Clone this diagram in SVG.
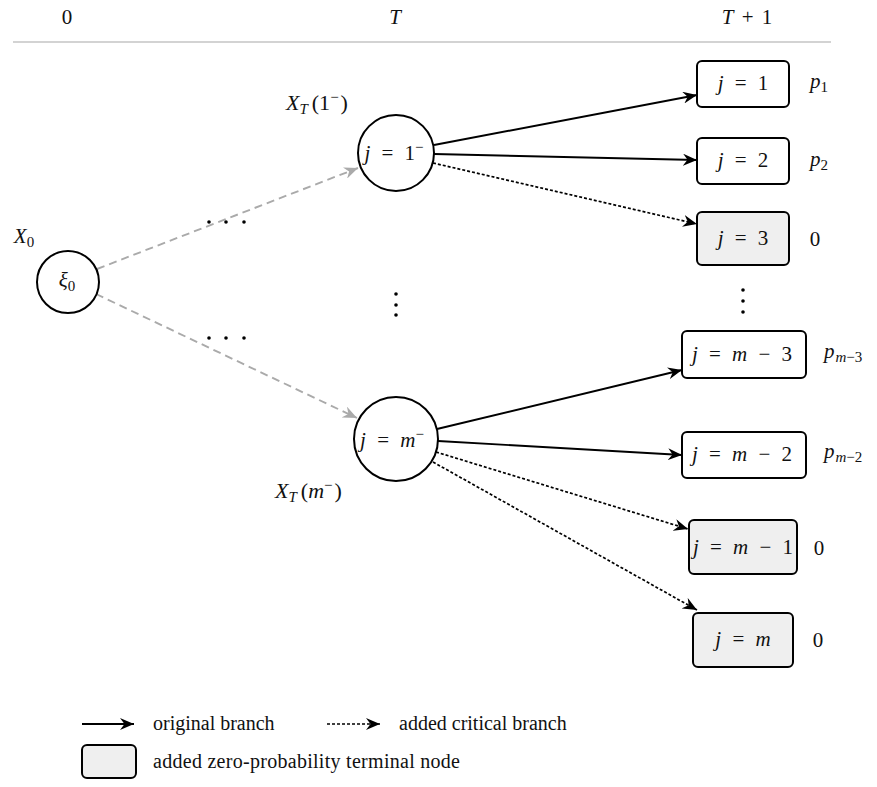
<svg xmlns="http://www.w3.org/2000/svg" width="877" height="787" viewBox="0 0 877 787" font-family="'Liberation Serif', 'DejaVu Serif', serif">
<defs>
<style>
text{font-family:"Liberation Serif","DejaVu Serif",serif;fill:#111;}
.m{font-size:21px;text-anchor:middle;}
.st{font-size:21px;}
.w{word-spacing:6px;}
.l{font-size:20px;}
.i{font-style:italic;}
.s{font-size:15px;}
.node{fill:#fff;stroke:#000;stroke-width:2;}
.zero{fill:#efefef;stroke:#000;stroke-width:2;}
.solid{fill:none;stroke:#000;stroke-width:1.9;marker-end:url(#ab);}
.dot{fill:none;stroke:#000;stroke-width:1.7;stroke-dasharray:3 2;marker-end:url(#ab);}
.gray{fill:none;stroke:#aaa;stroke-width:1.9;stroke-dasharray:8 5;marker-end:url(#ag);}
</style>
<marker id="ab" markerUnits="userSpaceOnUse" markerWidth="15" markerHeight="12" refX="14" refY="6" orient="auto" viewBox="0 0 15 12">
<path d="M0,0 L14,6 L0,12 L4.5,6 Z" fill="#000"/>
</marker>
<marker id="ag" markerUnits="userSpaceOnUse" markerWidth="15" markerHeight="12" refX="14" refY="6" orient="auto" viewBox="0 0 15 12">
<path d="M0,0 L14,6 L0,12 L4.5,6 Z" fill="#aaa"/>
</marker>
</defs>
<rect width="877" height="787" fill="#fff"/>

<g id="header">
<text class="m" x="67" y="24">0</text>
<text class="m i" x="395" y="24">T</text>
<text class="m" x="747" y="24" style="word-spacing:3px"><tspan class="i">T</tspan> + 1</text>
<line x1="13" y1="42" x2="831" y2="42" stroke="#c4c4c4" stroke-width="1.3"/>
</g>

<g id="connectors">
<path class="gray" d="M97,269 L358,168"/>
<path class="gray" d="M96,294 L357,418"/>
<path class="solid" d="M434,145 L697,95"/>
<path class="solid" d="M434,154 L697,160"/>
<path class="dot" d="M433,163 L697,224"/>
<path class="solid" d="M437,429 L682,370"/>
<path class="solid" d="M438,441 L682,455"/>
<path class="dot" d="M436,452 L688,529"/>
<path class="dot" d="M433,462 L697,610"/>
</g>

<g id="ellipses" fill="#000">
<circle cx="209" cy="222" r="1.8"/><circle cx="226" cy="222" r="1.8"/><circle cx="244" cy="222" r="1.8"/>
<circle cx="209" cy="338" r="1.8"/><circle cx="226" cy="338" r="1.8"/><circle cx="244" cy="338" r="1.8"/>
<circle cx="396" cy="294" r="1.8"/><circle cx="396" cy="305" r="1.8"/><circle cx="396" cy="315" r="1.8"/>
<circle cx="743" cy="290" r="1.8"/><circle cx="743" cy="301" r="1.8"/><circle cx="743" cy="312" r="1.8"/>
</g>

<g id="n-xi0">
<circle class="node" cx="68" cy="282" r="31"/>
<text class="m" x="67" y="287"><tspan class="i">ξ</tspan><tspan class="s" dy="4">0</tspan></text>
<text class="m" x="24" y="243"><tspan class="i">X</tspan><tspan class="s" dy="4">0</tspan></text>
</g>

<g id="n-1minus">
<circle class="node" cx="396" cy="153" r="38"/>
<text class="m w" x="394" y="160"><tspan class="i">j</tspan> = 1<tspan class="s" dy="-8">−</tspan></text>
<text class="st" x="286" y="110" style="font-size:22px"><tspan class="i">X</tspan><tspan class="s i" dy="4">T</tspan><tspan dx="4" dy="-4">(1</tspan><tspan class="s" dy="-8">−</tspan><tspan dx="2" dy="8">)</tspan></text>
</g>

<g id="n-mminus">
<circle class="node" cx="396" cy="439" r="42"/>
<text class="m w" x="392" y="447"><tspan class="i">j</tspan> = <tspan class="i">m</tspan><tspan class="s" dy="-8">−</tspan></text>
<text class="st" x="275" y="498" style="font-size:22px"><tspan class="i">X</tspan><tspan class="s i" dy="4">T</tspan><tspan dx="4" dy="-4">(</tspan><tspan class="i">m</tspan><tspan class="s" dy="-8">−</tspan><tspan dx="2" dy="8">)</tspan></text>
</g>

<g id="n-j1">
<rect class="node" x="697" y="61" width="92" height="46" rx="5"/>
<text class="m w" x="743" y="90"><tspan class="i">j</tspan> = 1</text>
<text class="m" x="819" y="88"><tspan class="i">p</tspan><tspan class="s" dy="4">1</tspan></text>
</g>

<g id="n-j2">
<rect class="node" x="697" y="138" width="92" height="46" rx="5"/>
<text class="m w" x="743" y="167"><tspan class="i">j</tspan> = 2</text>
<text class="m" x="819" y="166"><tspan class="i">p</tspan><tspan class="s" dy="4">2</tspan></text>
</g>

<g id="n-j3">
<rect class="zero" x="697" y="212" width="92" height="53" rx="5"/>
<text class="m w" x="743" y="245"><tspan class="i">j</tspan> = 3</text>
<text class="m" x="815" y="246">0</text>
</g>

<g id="n-jm3">
<rect class="node" x="682" y="331" width="124" height="47" rx="5"/>
<text class="m w" x="742" y="361"><tspan class="i">j</tspan> = <tspan class="i">m</tspan> − 3</text>
<text class="st" x="824" y="358"><tspan class="i">p</tspan><tspan class="s" dy="4" dx="1"><tspan class="i">m</tspan>−3</tspan></text>
</g>

<g id="n-jm2">
<rect class="node" x="682" y="432" width="124" height="46" rx="5"/>
<text class="m w" x="742" y="461"><tspan class="i">j</tspan> = <tspan class="i">m</tspan> − 2</text>
<text class="st" x="824" y="458"><tspan class="i">p</tspan><tspan class="s" dy="4" dx="1"><tspan class="i">m</tspan>−2</tspan></text>
</g>

<g id="n-jm1">
<rect class="zero" x="689" y="520" width="108" height="54" rx="5"/>
<text class="m w" x="743" y="554"><tspan class="i">j</tspan> = <tspan class="i">m</tspan> − 1</text>
<text class="m" x="819" y="555">0</text>
</g>

<g id="n-jm">
<rect class="zero" x="693" y="613" width="100" height="54" rx="5"/>
<text class="m w" x="743" y="646"><tspan class="i">j</tspan> = <tspan class="i">m</tspan></text>
<text class="m" x="818" y="647">0</text>
</g>

<g id="legend">
<line class="solid" x1="82" y1="724" x2="134" y2="724"/>
<text class="l" x="153" y="730">original branch</text>
<line class="dot" x1="327" y1="724" x2="380" y2="724"/>
<text class="l" x="399" y="730">added critical branch</text>
<rect class="zero" x="82" y="745" width="54" height="33" rx="5"/>
<text class="l" x="153" y="768" textLength="307">added zero-probability terminal node</text>
</g>
</svg>
